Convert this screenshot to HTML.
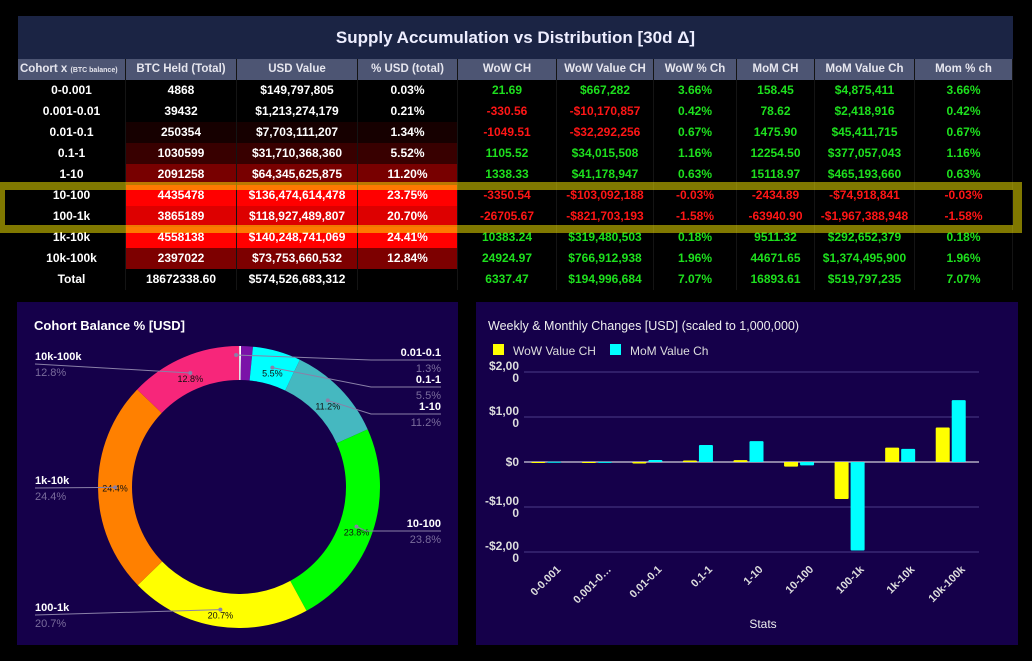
<!DOCTYPE html>
<html><head><meta charset="utf-8">
<style>
body{margin:0;background:#000;width:1032px;height:661px;overflow:hidden;font-family:"Liberation Sans",sans-serif;position:relative}
#tbl{position:absolute;left:0;top:0}
.banner{position:absolute;left:18px;top:16px;width:995px;height:43px;background:#1b2444;color:#eef;font-weight:bold;font-size:17px;text-align:center;line-height:44px}
.cell{position:absolute;height:21px;line-height:21px;text-align:center;font-size:12px;font-weight:bold;color:#fff;box-sizing:border-box;border-right:1px solid #141414;white-space:nowrap}
.hdr{background:#4d5573;color:#e6e6ee;font-size:11.5px}
.g{color:#1ee01e}.r{color:#ff1616}
.hl{position:absolute;left:0;top:182px;width:1022px;height:51px;box-sizing:border-box;border:8px solid rgba(255,240,0,0.5);border-left-width:5px;border-right-width:9px}
.panel{position:absolute;background:#15004a}
</style></head><body>
<div class="banner">Supply Accumulation vs Distribution [30d Δ]</div>
<div id="tbl"></div>
<div class="hl"></div>

<div class="panel" style="left:17px;top:302px;width:441px;height:343px">
<svg id="donut" width="441" height="343"></svg></div>
<div class="panel" style="left:476px;top:302px;width:542px;height:343px">
<svg id="bars" width="542" height="343"></svg></div>

<script>
const cohorts=["0-0.001","0.001-0.01","0.01-0.1","0.1-1","1-10","10-100","100-1k","1k-10k","10k-100k"];
const btcHeld=["4868","39432","250354","1030599","2091258","4435478","3865189","4558138","2397022","18672338.60"];
const usdValue=["$149,797,805","$1,213,274,179","$7,703,111,207","$31,710,368,360","$64,345,625,875","$136,474,614,478","$118,927,489,807","$140,248,741,069","$73,753,660,532","$574,526,683,312"];
const pctUsd=[0.03,0.21,1.34,5.52,11.20,23.75,20.70,24.41,12.84];
const wowCh=["21.69","-330.56","-1049.51","1105.52","1338.33","-3350.54","-26705.67","10383.24","24924.97","6337.47"];
const wowValStr=["$667,282","-$10,170,857","-$32,292,256","$34,015,508","$41,178,947","-$103,092,188","-$821,703,193","$319,480,503","$766,912,938","$194,996,684"];
const wowPct=["3.66%","0.42%","0.67%","1.16%","0.63%","-0.03%","-1.58%","0.18%","1.96%","7.07%"];
const momCh=["158.45","78.62","1475.90","12254.50","15118.97","-2434.89","-63940.90","9511.32","44671.65","16893.61"];
const momValStr=["$4,875,411","$2,418,916","$45,411,715","$377,057,043","$465,193,660","-$74,918,841","-$1,967,388,948","$292,652,379","$1,374,495,900","$519,797,235"];
const heat=["#000","#000","#160000","#380000","#780000","#ff0000","#dd0000","#ff0000","#7d0000"];
// bar chart values (millions USD)
const wowVal=[0.67,-10.17,-32.29,34.02,41.18,-103.09,-821.70,319.48,766.91];
const momVal=[4.88,2.42,45.41,377.06,465.19,-74.92,-1967.39,292.65,1374.50];
const yTicks=[2000,1000,0,-1000,-2000];
const yTickLabels=["$2,00|0","$1,00|0","$0","-$1,00|0","-$2,00|0"];
const donutColors=["#ffffff","#ffffff","#7b12a8","#00ffff","#45b8c0","#00ff00","#ffff00","#ff8000","#f7267a"];

const NS="http://www.w3.org/2000/svg";
const cols=[18,126,237,358,458,557,654,737,815,915,1013];
const heads=["Cohort x <span style='font-size:7px'>(BTC balance)</span>","BTC Held (Total)","USD Value","% USD (total)","WoW CH","WoW Value CH","WoW % Ch","MoM CH","MoM Value Ch","Mom % ch"];
const tbl=document.getElementById('tbl');
function cell(ci,y,html,cls,bg){const d=document.createElement('div');d.className='cell '+(cls||'');
d.style.left=cols[ci]+'px';d.style.top=y+'px';d.style.width=(cols[ci+1]-cols[ci])+'px';if(bg)d.style.background=bg;d.innerHTML=html;


tbl.appendChild(d);return d;}
heads.forEach((h,i)=>{if(i==0){const d=cell(0,59,h,'hdr');d.style.textAlign='left';d.style.paddingLeft='2px';}else cell(i,59,h,'hdr');});
const names=cohorts.concat(["Total"]);
const gc=s=>s.trim().startsWith('-')?'r':'g';
for(let i=0;i<10;i++){const y=80+i*21;const bg=i<9?heat[i]:null;
cell(0,y,names[i]);cell(1,y,btcHeld[i],'',bg);cell(2,y,usdValue[i],'',bg);cell(3,y,i<9?pctUsd[i].toFixed(2)+'%':'','',bg);
cell(4,y,wowCh[i],gc(wowCh[i]));cell(5,y,wowValStr[i],gc(wowValStr[i]));cell(6,y,wowPct[i],gc(wowPct[i]));
cell(7,y,momCh[i],gc(momCh[i]));cell(8,y,momValStr[i],gc(momValStr[i]));cell(9,y,wowPct[i],gc(wowPct[i]));}

function el(p,tag,a,txt){const e=document.createElementNS(NS,tag);for(const k in a)e.setAttribute(k,a[k]);if(txt!=null)e.textContent=txt;p.appendChild(e);return e;}

// Donut
const ds=document.getElementById('donut');
let t=el(ds,'text',{x:17,y:28,fill:'#fff','font-size':13,'font-weight':'bold','font-family':'Liberation Sans'},'Cohort Balance % [USD]');


const cx=222,cy=185,R=141,r=107;
const total=pctUsd.reduce((a,b)=>a+b,0);
let acc=0;const mids=[];
pctUsd.forEach((v,i)=>{const a0=acc/total*2*Math.PI;acc+=v;const a1=acc/total*2*Math.PI;
const P=(rad,a)=>[cx+rad*Math.sin(a),cy-rad*Math.cos(a)];
const [x0,y0]=P(R,a0),[x1,y1]=P(R,a1),[x2,y2]=P(r,a1),[x3,y3]=P(r,a0);const lg=(a1-a0)>Math.PI?1:0;
const p=el(ds,'path',{d:`M${x0},${y0}A${R},${R} 0 ${lg} 1 ${x1},${y1}L${x2},${y2}A${r},${r} 0 ${lg} 0 ${x3},${y3}Z`,fill:donutColors[i]});


mids.push((a0+a1)/2);});
const lbl={2:[424,'end',50],3:[424,'end',77],4:[424,'end',104],5:[424,'end',221],6:[18,'start',305],7:[18,'start',178],8:[18,'start',54]};
mids.forEach((a,i)=>{const v=pctUsd[i];const ax=cx+124*Math.sin(a),ay=cy-124*Math.cos(a);
if(v>=5){const tt=el(ds,'text',{x:ax,y:ay+(i==7?4:9),'text-anchor':'middle',fill:'#111','font-size':9,'font-family':'Liberation Sans'},v.toFixed(1)+'%');

}
if(lbl[i]){const [lx,anc,ly]=lbl[i];const px=i==2?cx+124*Math.sin(a)-10:ax,py=i==2?cy-132:ay;
const ex=anc=='end'?lx-90:lx+40;
const ln=el(ds,'polyline',{points:i>=5?`${px},${py} ${anc=='end'?lx-75:ex},${ly+8} ${lx},${ly+8}`:`${px},${py} ${ex+20},${ly+8} ${lx},${ly+8}`,fill:'none',stroke:'#8a80a8','stroke-width':1});
if(i>=6) ln.setAttribute('points',`${lx},${ly+8} ${px},${py}`);


el(ds,'circle',{cx:px,cy:py,r:2,fill:'#8a80a8'});
const n=el(ds,'text',{x:lx,y:ly+4,'text-anchor':anc,fill:'#fff','font-size':11,'font-weight':'bold','font-family':'Liberation Sans'},cohorts[i]);


const q=el(ds,'text',{x:lx,y:ly+20,'text-anchor':anc,fill:'#7a6c9c','font-size':11,'font-family':'Liberation Sans'},v.toFixed(1)+'%');

}});

// Bars
const bs=document.getElementById('bars');
const X0=48,X1=503,Y=v=>160-v*0.045;
t=el(bs,'text',{x:12,y:28,fill:'#eee','font-size':12.5,'font-family':'Liberation Sans'},'Weekly & Monthly Changes [USD] (scaled to 1,000,000)');


[["WoW Value CH","#ffff00",17],["MoM Value Ch","#00ffff",134]].forEach(([n,c,x])=>{
const g=el(bs,'g',{});
el(g,'rect',{x:x,y:42,width:11,height:11,fill:c});el(g,'text',{x:x+20,y:53,fill:'#ddd','font-size':12,'font-family':'Liberation Sans'},n);});
yTicks.forEach((v,i)=>{const y=Y(v);
const gl=el(bs,'line',{x1:X0,x2:X1,y1:y,y2:y,stroke:v==0?'#fff':'#4a3d88','stroke-width':1});


const parts=yTickLabels[i].split('|');
parts.forEach((p,j)=>{const tx=el(bs,'text',{x:43,y:y+(parts.length>1?-2+j*12:4),'text-anchor':'end',fill:'#ddd','font-size':12,'font-weight':'bold','font-family':'Liberation Sans'},p);

});});
const cw=(X1-X0)/cohorts.length;
cohorts.forEach((c,i)=>{const cxm=X0+cw*(i+0.5);
[[wowVal[i],'#ffff00',-18],[momVal[i],'#00ffff',-2]].forEach(([v,col,off],k)=>{
const y0=Y(0),y1=Y(v);const rc=el(bs,'rect',{x:cxm+off,y:Math.min(y0,y1),width:14,height:Math.max(1,Math.abs(y1-y0)),fill:col,rx:1});

});
const lab=c.length>9?c.slice(0,7)+'…':c;
const tx=el(bs,'text',{x:cxm+12,y:268,'text-anchor':'end',fill:'#ddd','font-size':11,'font-weight':'bold','font-family':'Liberation Sans',transform:`rotate(-45 ${cxm+12} 268)`},lab);

});
t=el(bs,'text',{x:287,y:326,'text-anchor':'middle',fill:'#eee','font-size':12,'font-family':'Liberation Sans'},'Stats');


</script>
</body></html>
